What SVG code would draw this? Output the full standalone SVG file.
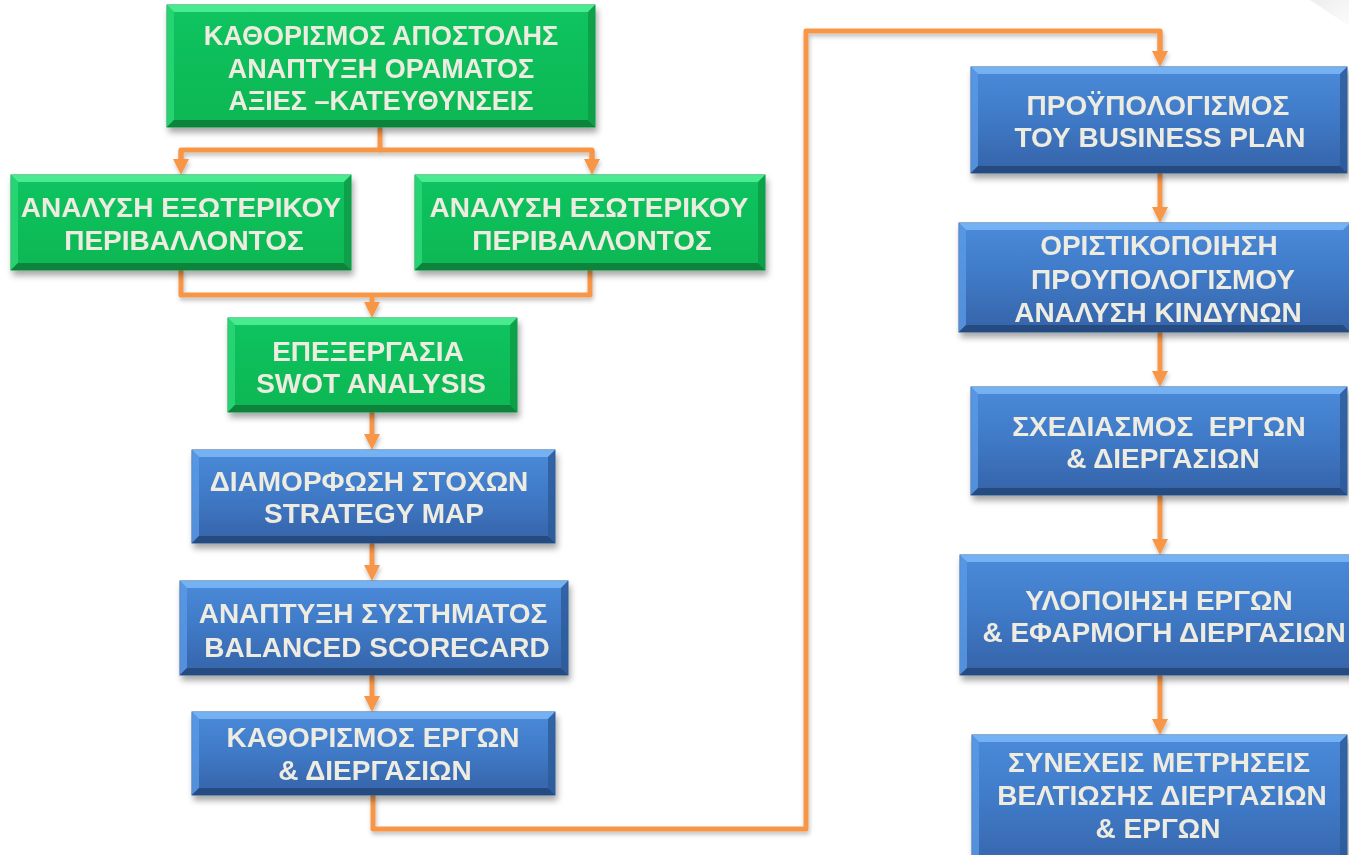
<svg xmlns="http://www.w3.org/2000/svg" width="1349" height="855" viewBox="0 0 1349 855">
<style>
.t{font-family:"Liberation Sans",Arial,sans-serif;font-weight:bold;font-size:28px;fill:#EEECE1;text-anchor:middle;white-space:pre}
.t1{font-size:27px}
.gb{fill:url(#gGreen);stroke:#0A9C48;stroke-width:1}
.bb{fill:url(#gBlue);stroke:#2F5C9A;stroke-width:1}
.gt{fill:#52F29A;opacity:.85}
.gl{fill:#2ED878;opacity:.8}
.gr{fill:#099A45;opacity:.8}
.gd{fill:#077A36;opacity:.85}
.bt{fill:#7AB6F5;opacity:.9}
.bl{fill:#5A9AE6;opacity:.8}
.br{fill:#2C5A98;opacity:.8}
.bd{fill:#24497C;opacity:.9}
.c{fill:none;stroke:#F79646;stroke-width:5;stroke-linejoin:round}
.ca{fill:none;stroke:#F79646;stroke-width:5;marker-end:url(#ah)}
</style>
<defs>
<linearGradient id="gGreen" x1="0" y1="0" x2="0" y2="1">
<stop offset="0" stop-color="#12C460"/>
<stop offset="1" stop-color="#0AB753"/>
</linearGradient>
<linearGradient id="gBlue" x1="0" y1="0" x2="0" y2="1">
<stop offset="0" stop-color="#4A8BDA"/>
<stop offset="0.5" stop-color="#3F79C6"/>
<stop offset="1" stop-color="#3563A8"/>
</linearGradient>
<linearGradient id="gCurl" x1="0" y1="0" x2="1" y2="1">
<stop offset="0" stop-color="#EDEDED"/>
<stop offset="1" stop-color="#FCFCFC"/>
</linearGradient>
<filter id="sh" x="-10%" y="-10%" width="120%" height="140%">
<feDropShadow dx="2" dy="5" stdDeviation="3" flood-color="#000" flood-opacity="0.35"/>
</filter>
<filter id="shc" x="-10%" y="-10%" width="120%" height="120%">
<feDropShadow dx="1" dy="3" stdDeviation="2" flood-color="#000" flood-opacity="0.25"/>
</filter>
<marker id="ah" markerUnits="userSpaceOnUse" viewBox="0 0 16 16" markerWidth="16" markerHeight="16" refX="4" refY="8" orient="auto">
<path d="M0,0 L16,8 L0,16 Z" fill="#F79646"/>
</marker>
</defs>
<rect width="1349" height="855" fill="#FFFFFF"/>
<polygon points="1310,0 1349,0 1349,26" fill="url(#gCurl)"/>

<g id="connectors" filter="url(#shc)">
<path class="c" d="M380,127 V150 H181 V163"/>
<path class="ca" d="M181,150 V163"/>
<path class="c" d="M380,150 H592 V163"/>
<path class="ca" d="M592,150 V163"/>
<path class="c" d="M181,270 V295 H590 V270"/>
<path class="ca" d="M372,295 V306"/>
<path class="ca" d="M372,412 V438"/>
<path class="ca" d="M372,543 V569"/>
<path class="ca" d="M372,675 V700"/>
<path class="c" d="M373,795 V829 H806 V31 H1160 V55"/>
<path class="ca" d="M1160,31 V55"/>
<path class="ca" d="M1160,173 V211"/>
<path class="ca" d="M1160,332 V375"/>
<path class="ca" d="M1160,495 V543"/>
<path class="ca" d="M1160,675 V723"/>
</g>

<g id="n1" filter="url(#sh)">
<rect class="gb" x="167" y="5" width="428" height="122"/>
<path class="gt" d="M167,5 H595 L588,12 H174 Z"/>
<path class="gl" d="M167,5 L174,12 V120 L167,127 Z"/>
<path class="gr" d="M595,5 V127 L588,120 V12 Z"/>
<path class="gd" d="M167,127 L174,120 H588 L595,127 Z"/>
<text class="t t1" x="381" y="45">ΚΑΘΟΡΙΣΜΟΣ ΑΠΟΣΤΟΛΗΣ</text>
<text class="t t1" x="381" y="78">ΑΝΑΠΤΥΞΗ ΟΡΑΜΑΤΟΣ</text>
<text class="t t1" x="381" y="110">ΑΞΙΕΣ –ΚΑΤΕΥΘΥΝΣΕΙΣ</text>
</g>

<g id="n2" filter="url(#sh)">
<rect class="gb" x="11" y="175" width="340" height="95"/>
<path class="gt" d="M11,175 H351 L344,182 H18 Z"/>
<path class="gl" d="M11,175 L18,182 V263 L11,270 Z"/>
<path class="gr" d="M351,175 V270 L344,263 V182 Z"/>
<path class="gd" d="M11,270 L18,263 H344 L351,270 Z"/>
<text class="t" x="181" y="217">ΑΝΑΛΥΣΗ ΕΞΩΤΕΡΙΚΟΥ</text>
<text class="t" x="184" y="250">ΠΕΡΙΒΑΛΛΟΝΤΟΣ</text>
</g>

<g id="n3" filter="url(#sh)">
<rect class="gb" x="415" y="175" width="350" height="95"/>
<path class="gt" d="M415,175 H765 L758,182 H422 Z"/>
<path class="gl" d="M415,175 L422,182 V263 L415,270 Z"/>
<path class="gr" d="M765,175 V270 L758,263 V182 Z"/>
<path class="gd" d="M415,270 L422,263 H758 L765,270 Z"/>
<text class="t" x="589" y="217">ΑΝΑΛΥΣΗ ΕΣΩΤΕΡΙΚΟΥ</text>
<text class="t" x="592" y="250">ΠΕΡΙΒΑΛΛΟΝΤΟΣ</text>
</g>

<g id="n4" filter="url(#sh)">
<rect class="gb" x="228" y="318" width="289" height="94"/>
<path class="gt" d="M228,318 H517 L510,325 H235 Z"/>
<path class="gl" d="M228,318 L235,325 V405 L228,412 Z"/>
<path class="gr" d="M517,318 V412 L510,405 V325 Z"/>
<path class="gd" d="M228,412 L235,405 H510 L517,412 Z"/>
<text class="t" x="368" y="361">ΕΠΕΞΕΡΓΑΣΙΑ</text>
<text class="t" x="371" y="393">SWOT ANALYSIS</text>
</g>

<g id="n5" filter="url(#sh)">
<rect class="bb" x="192" y="450" width="363" height="93"/>
<path class="bt" d="M192,450 H555 L548,457 H199 Z"/>
<path class="bl" d="M192,450 L199,457 V536 L192,543 Z"/>
<path class="br" d="M555,450 V543 L548,536 V457 Z"/>
<path class="bd" d="M192,543 L199,536 H548 L555,543 Z"/>
<text class="t" x="369" y="491">ΔΙΑΜΟΡΦΩΣΗ ΣΤΟΧΩΝ</text>
<text class="t" x="374" y="523">STRATEGY MAP</text>
</g>

<g id="n6" filter="url(#sh)">
<rect class="bb" x="180" y="581" width="388" height="94"/>
<path class="bt" d="M180,581 H568 L561,588 H187 Z"/>
<path class="bl" d="M180,581 L187,588 V668 L180,675 Z"/>
<path class="br" d="M568,581 V675 L561,668 V588 Z"/>
<path class="bd" d="M180,675 L187,668 H561 L568,675 Z"/>
<text class="t" x="373" y="623">ΑΝΑΠΤΥΞΗ ΣΥΣΤΗΜΑΤΟΣ</text>
<text class="t" x="377" y="657">BALANCED SCORECARD</text>
</g>

<g id="n7" filter="url(#sh)">
<rect class="bb" x="192" y="712" width="363" height="83"/>
<path class="bt" d="M192,712 H555 L548,719 H199 Z"/>
<path class="bl" d="M192,712 L199,719 V788 L192,795 Z"/>
<path class="br" d="M555,712 V795 L548,788 V719 Z"/>
<path class="bd" d="M192,795 L199,788 H548 L555,795 Z"/>
<text class="t" x="373" y="747">ΚΑΘΟΡΙΣΜΟΣ ΕΡΓΩΝ</text>
<text class="t" x="375" y="780">&amp; ΔΙΕΡΓΑΣΙΩΝ</text>
</g>

<g id="n8" filter="url(#sh)">
<rect class="bb" x="971" y="67" width="376" height="106"/>
<path class="bt" d="M971,67 H1347 L1340,74 H978 Z"/>
<path class="bl" d="M971,67 L978,74 V166 L971,173 Z"/>
<path class="br" d="M1347,67 V173 L1340,166 V74 Z"/>
<path class="bd" d="M971,173 L978,166 H1340 L1347,173 Z"/>
<text class="t" x="1158" y="115">ΠΡΟΫΠΟΛΟΓΙΣΜΟΣ</text>
<text class="t" x="1160" y="147">ΤΟΥ BUSINESS PLAN</text>
</g>

<g id="n9" filter="url(#sh)">
<rect class="bb" x="959" y="223" width="391" height="109"/>
<path class="bt" d="M959,223 H1350 L1343,230 H966 Z"/>
<path class="bl" d="M959,223 L966,230 V325 L959,332 Z"/>
<path class="bd" d="M959,332 L966,325 H1343 L1350,332 Z"/>
<text class="t" x="1159" y="255">ΟΡΙΣΤΙΚΟΠΟΙΗΣΗ</text>
<text class="t" x="1163" y="289">ΠΡΟΥΠΟΛΟΓΙΣΜΟΥ</text>
<text class="t" x="1158" y="322">ΑΝΑΛΥΣΗ ΚΙΝΔΥΝΩΝ</text>
</g>

<g id="n10" filter="url(#sh)">
<rect class="bb" x="971" y="387" width="376" height="108"/>
<path class="bt" d="M971,387 H1347 L1340,394 H978 Z"/>
<path class="bl" d="M971,387 L978,394 V488 L971,495 Z"/>
<path class="br" d="M1347,387 V495 L1340,488 V394 Z"/>
<path class="bd" d="M971,495 L978,488 H1340 L1347,495 Z"/>
<text class="t" x="1159" y="436">ΣΧΕΔΙΑΣΜΟΣ  ΕΡΓΩΝ</text>
<text class="t" x="1163" y="468">&amp; ΔΙΕΡΓΑΣΙΩΝ</text>
</g>

<g id="n11" filter="url(#sh)">
<rect class="bb" x="960" y="555" width="400" height="120"/>
<path class="bt" d="M960,555 H1360 L1353,562 H967 Z"/>
<path class="bl" d="M960,555 L967,562 V668 L960,675 Z"/>
<path class="bd" d="M960,675 L967,668 H1353 L1360,675 Z"/>
<text class="t" x="1159" y="610">ΥΛΟΠΟΙΗΣΗ ΕΡΓΩΝ</text>
<text class="t" x="1164" y="642">&amp; ΕΦΑΡΜΟΓΗ ΔΙΕΡΓΑΣΙΩΝ</text>
</g>

<g id="n12" filter="url(#sh)">
<rect class="bb" x="972" y="735" width="375" height="140"/>
<path class="bt" d="M972,735 H1347 L1340,742 H979 Z"/>
<path class="bl" d="M972,735 L979,742 V875 L972,875 Z"/>
<path class="br" d="M1347,735 V875 L1340,875 V742 Z"/>
<text class="t" x="1159" y="772">ΣΥΝΕΧΕΙΣ ΜΕΤΡΗΣΕΙΣ</text>
<text class="t" x="1162" y="805">ΒΕΛΤΙΩΣΗΣ ΔΙΕΡΓΑΣΙΩΝ</text>
<text class="t" x="1158" y="838">&amp; ΕΡΓΩΝ</text>
</g>
</svg>
